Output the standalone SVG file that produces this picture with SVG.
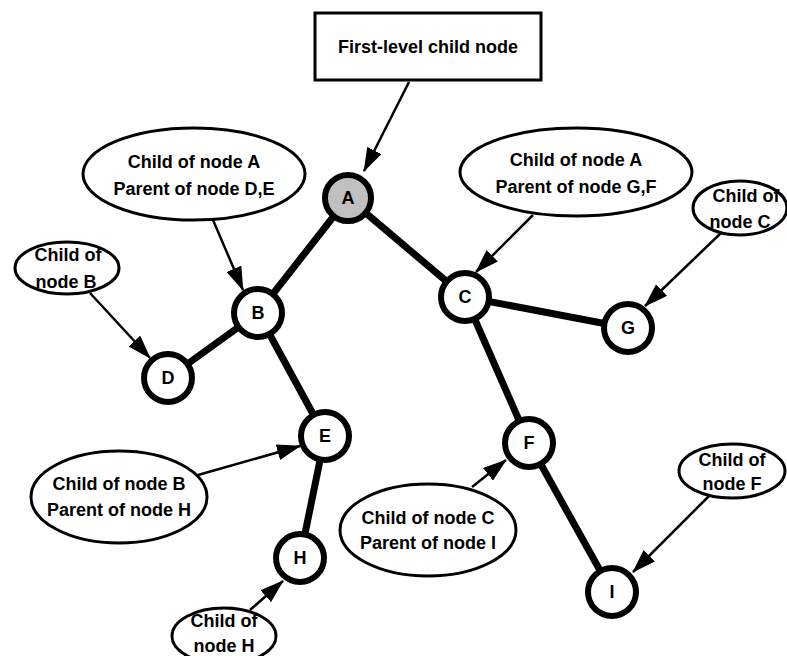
<svg xmlns="http://www.w3.org/2000/svg" width="787" height="656" viewBox="0 0 787 656">
  <style>
    text { font-family: "Liberation Sans", Arial, sans-serif; font-weight: bold; font-size: 18px; fill: #000; text-anchor: middle; }
    .edge { stroke: #000; stroke-width: 7; fill: none; }
    .ptr { stroke: #000; stroke-width: 2.5; fill: none; }
    .node circle { fill: #fff; stroke: #000; stroke-width: 6; }
    .root circle { fill: #c0c0c0; }
    .note ellipse { fill: #fff; stroke: #000; stroke-width: 3; }
    .box rect { fill: #fff; stroke: #000; stroke-width: 3; }
  </style>
  <defs>
    <marker id="arrow" viewBox="0 0 24 16" refX="23" refY="8" markerWidth="24" markerHeight="16" markerUnits="userSpaceOnUse" orient="auto">
      <path d="M0,0 L24,8 L0,16 z" fill="#000"/>
    </marker>
  </defs>
  <rect width="787" height="656" fill="#fff"/>

  <!-- tree edges -->
  <g id="edges">
    <line class="edge" x1="348" y1="198" x2="258" y2="313"/>
    <line class="edge" x1="348" y1="198" x2="465" y2="297"/>
    <line class="edge" x1="258" y1="313" x2="168" y2="378"/>
    <line class="edge" x1="258" y1="313" x2="325" y2="436"/>
    <line class="edge" x1="465" y1="297" x2="628" y2="328"/>
    <line class="edge" x1="465" y1="297" x2="529" y2="443"/>
    <line class="edge" x1="325" y1="436" x2="300" y2="558"/>
    <line class="edge" x1="529" y1="443" x2="612" y2="592"/>
  </g>

  <!-- annotation boxes -->
  <g id="box-first-level" class="box">
    <rect x="315" y="13" width="226" height="67"/>
    <text x="428" y="53">First-level child node</text>
  </g>
  <g id="note-b" class="note">
    <ellipse cx="194" cy="174" rx="111" ry="46"/>
    <text x="194" y="168">Child of node A</text>
    <text x="194" y="195">Parent of node D,E</text>
  </g>
  <g id="note-d" class="note">
    <ellipse cx="67" cy="268" rx="52" ry="26"/>
    <text x="68" y="261">Child of</text>
    <text x="66" y="288">node B</text>
  </g>
  <g id="note-c" class="note">
    <ellipse cx="576" cy="172" rx="116" ry="44"/>
    <text x="576" y="166">Child of node A</text>
    <text x="576" y="193">Parent of node G,F</text>
  </g>
  <g id="note-g" class="note">
    <ellipse cx="740" cy="208" rx="47" ry="27"/>
    <text x="746" y="202">Child of</text>
    <text x="740" y="228">node C</text>
  </g>
  <g id="note-e" class="note">
    <ellipse cx="119" cy="497" rx="88" ry="46"/>
    <text x="119" y="490">Child of node B</text>
    <text x="119" y="516">Parent of node H</text>
  </g>
  <g id="note-h" class="note">
    <ellipse cx="224" cy="636" rx="52" ry="28"/>
    <text x="224" y="627">Child of</text>
    <text x="224" y="652">node H</text>
  </g>
  <g id="note-f" class="note">
    <ellipse cx="428" cy="530" rx="88" ry="46"/>
    <text x="428" y="524">Child of node C</text>
    <text x="428" y="549">Parent of node I</text>
  </g>
  <g id="note-i" class="note">
    <ellipse cx="732" cy="471" rx="53" ry="27"/>
    <text x="732" y="466">Child of</text>
    <text x="732" y="490">node F</text>
  </g>

  <!-- pointer arrows -->
  <g id="pointers">
    <line class="ptr" marker-end="url(#arrow)" x1="409" y1="82" x2="364" y2="171"/>
    <line class="ptr" marker-end="url(#arrow)" x1="213" y1="220" x2="243" y2="290"/>
    <line class="ptr" marker-end="url(#arrow)" x1="90" y1="293" x2="150" y2="358"/>
    <line class="ptr" marker-end="url(#arrow)" x1="533" y1="215" x2="476" y2="272"/>
    <line class="ptr" marker-end="url(#arrow)" x1="721" y1="233" x2="645" y2="306"/>
    <line class="ptr" marker-end="url(#arrow)" x1="198" y1="475" x2="300" y2="446"/>
    <line class="ptr" marker-end="url(#arrow)" x1="250" y1="610" x2="283" y2="581"/>
    <line class="ptr" marker-end="url(#arrow)" x1="472" y1="487" x2="506" y2="460"/>
    <line class="ptr" marker-end="url(#arrow)" x1="709" y1="496" x2="633" y2="572"/>
  </g>

  <!-- tree nodes -->
  <g id="node-a" class="node root"><circle cx="348" cy="198" r="23"/><text x="348" y="204">A</text></g>
  <g id="node-b" class="node"><circle cx="258" cy="313" r="24"/><text x="258" y="319">B</text></g>
  <g id="node-c" class="node"><circle cx="465" cy="297" r="24"/><text x="465" y="303">C</text></g>
  <g id="node-d" class="node"><circle cx="168" cy="378" r="24"/><text x="168" y="384">D</text></g>
  <g id="node-e" class="node"><circle cx="325" cy="436" r="24"/><text x="325" y="442">E</text></g>
  <g id="node-g" class="node"><circle cx="628" cy="328" r="24"/><text x="628" y="334">G</text></g>
  <g id="node-f" class="node"><circle cx="529" cy="443" r="24"/><text x="529" y="449">F</text></g>
  <g id="node-h" class="node"><circle cx="300" cy="558" r="24"/><text x="300" y="564">H</text></g>
  <g id="node-i" class="node"><circle cx="612" cy="592" r="24"/><text x="612" y="598">I</text></g>
</svg>
